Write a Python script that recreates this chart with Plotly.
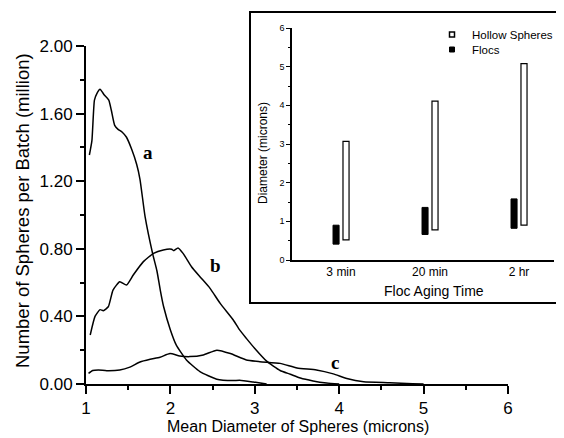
import plotly.graph_objects as go

# ---------------- data ----------------
# main chart: number of spheres per batch (million) vs mean diameter (microns)
a_x = [1.04, 1.07, 1.10, 1.13, 1.166, 1.217, 1.27, 1.30, 1.34, 1.38, 1.43, 1.48, 1.54, 1.60, 1.64,
       1.70, 1.79, 1.84, 1.88, 1.92, 2.00, 2.07, 2.19, 2.35, 2.55, 2.74, 2.82, 2.98, 3.14]
a_y = [1.355, 1.44, 1.68, 1.72, 1.744, 1.71, 1.68, 1.62, 1.53, 1.507, 1.49, 1.46, 1.39, 1.30, 1.21,
       0.99, 0.77, 0.67, 0.556, 0.457, 0.32, 0.23, 0.142, 0.073, 0.028, 0.02, 0.022, 0.012, 0.0]

b_x = [1.05, 1.107, 1.166, 1.205, 1.264, 1.32, 1.40, 1.48, 1.56, 1.68, 1.80, 1.916, 2.015, 2.04,
       2.09, 2.15, 2.25, 2.35, 2.47, 2.59, 2.745, 2.82, 2.90, 3.00, 3.14, 3.30, 3.42, 3.54, 3.69,
       3.85, 4.0]
b_y = [0.29, 0.40, 0.44, 0.434, 0.457, 0.556, 0.605, 0.586, 0.645, 0.724, 0.773, 0.793, 0.797, 0.789,
       0.805, 0.773, 0.694, 0.635, 0.566, 0.477, 0.379, 0.32, 0.27, 0.21, 0.135, 0.08, 0.058, 0.035,
       0.018, 0.006, 0.0]

c_x = [1.03, 1.08, 1.146, 1.245, 1.40, 1.52, 1.64, 1.76, 1.877, 1.995, 2.11, 2.23, 2.39, 2.55, 2.71,
       2.90, 3.06, 3.30, 3.50, 3.73, 3.93, 4.09, 4.29, 4.60, 4.87, 5.0]
c_y = [0.063, 0.08, 0.083, 0.079, 0.083, 0.10, 0.13, 0.146, 0.158, 0.18, 0.166, 0.162, 0.172, 0.20,
       0.18, 0.142, 0.132, 0.122, 0.095, 0.083, 0.06, 0.033, 0.014, 0.008, 0.002, 0.0]

# curve labels (position in data units)
label_text = ["a", "b", "c"]
label_x = [1.735, 2.53, 3.95]
label_y = [1.37, 0.70, 0.126]

# inset: diameter ranges per floc aging time
aging_times = ["3 min", "20 min", "2 hr"]
flocs_low = [0.41, 0.66, 0.82]
flocs_high = [0.90, 1.36, 1.58]
hollow_low = [0.52, 0.78, 0.90]
hollow_high = [3.07, 4.11, 5.08]

main_x_ticks = [1, 2, 3, 4, 5, 6]
main_y_ticks = [0.0, 0.4, 0.8, 1.2, 1.6, 2.0]
inset_y_ticks = [0, 1, 2, 3, 4, 5, 6]

# ---------------- figure ----------------
# the page body has an 8px margin, so the figure starts at (8, 8) in the window
OFF = 8
WIN_W, WIN_H = 564, 438
W, H = WIN_W - OFF, WIN_H - OFF
FONT = "Arial, Liberation Sans, sans-serif"


def px_x(p):
    """window x pixel -> paper fraction"""
    return (p - OFF) / W


def px_y(p):
    """window y pixel (from top) -> paper fraction"""
    return (WIN_H - p) / H


fig = go.Figure()

for xs, ys in [(a_x, a_y), (b_x, b_y), (c_x, c_y)]:
    fig.add_trace(go.Scatter(x=xs, y=ys, mode="lines",
                             line=dict(color="black", width=1.5, shape="spline", smoothing=0.5),
                             showlegend=False, hoverinfo="skip", xaxis="x", yaxis="y"))

# inset bars (floating bars)
fig.add_trace(go.Bar(x=aging_times, y=[h - l for l, h in zip(flocs_low, flocs_high)], base=flocs_low,
                     width=0.068, offset=-0.09,
                     marker=dict(color="black", line=dict(color="black", width=1)),
                     showlegend=False, xaxis="x2", yaxis="y2"))
fig.add_trace(go.Bar(x=aging_times, y=[h - l for l, h in zip(hollow_low, hollow_high)], base=hollow_low,
                     width=0.068, offset=0.022,
                     marker=dict(color="white", line=dict(color="black", width=1.2)),
                     showlegend=False, xaxis="x2", yaxis="y2"))

# legend entries (square symbols)
fig.add_trace(go.Scatter(x=[None], y=[None], mode="markers", name="Hollow Spheres",
                         marker=dict(symbol="square", size=5, color="white",
                                     line=dict(color="black", width=1.5)),
                         xaxis="x2", yaxis="y2", legend="legend"))
fig.add_trace(go.Scatter(x=[None], y=[None], mode="markers", name="Flocs",
                         marker=dict(symbol="square", size=5, color="black",
                                     line=dict(color="black", width=1)),
                         xaxis="x2", yaxis="y2", legend="legend2"))

annotations = []
for t, x, y in zip(label_text, label_x, label_y):
    annotations.append(dict(x=x, y=y, xref="x", yref="y", text=f"<b>{t}</b>", showarrow=False,
                            xanchor="center", yanchor="middle",
                            font=dict(family="Liberation Serif, Times New Roman, serif", size=19,
                                      color="black")))


def paper_text(x, y, text, size, angle=0):
    return dict(x=px_x(x), y=px_y(y), xref="paper", yref="paper", text=text, showarrow=False,
                xanchor="center", yanchor="middle", textangle=angle,
                font=dict(family=FONT, size=size, color="black"))


annotations += [
    paper_text(298, 426, "Mean Diameter of Spheres (microns)", 16),
    paper_text(22, 211, "Number of Spheres per Batch (million)", 18.5, -90),
    paper_text(434, 291, "Floc Aging Time", 14),
    paper_text(263, 153, "Diameter (microns)", 12, -90),
]

legend_common = dict(xanchor="left", yanchor="top", bgcolor="rgba(0,0,0,0)",
                     font=dict(family=FONT, size=11.5, color="black"), borderwidth=0)

fig.update_layout(
    width=W, height=H,
    margin=dict(l=0, r=0, t=0, b=0),
    paper_bgcolor="white", plot_bgcolor="rgba(0,0,0,0)",
    font=dict(family=FONT, color="black"),
    barmode="overlay",
    xaxis=dict(domain=[px_x(86), px_x(508)], range=[1, 6], tickvals=main_x_ticks,
               showline=True, linecolor="black", linewidth=2, ticks="outside", ticklen=8,
               tickwidth=1.5, tickcolor="black", showgrid=False, zeroline=False,
               tickfont=dict(size=17), automargin=False,
               minor=dict(ticks="outside", dtick=0.5, ticklen=4, tickwidth=1.5, tickcolor="black")),
    yaxis=dict(domain=[px_y(384), px_y(46)], range=[0, 2], tickvals=main_y_ticks, tickformat=".2f",
               showline=True, linecolor="black", linewidth=2, ticks="outside", ticklen=8,
               tickwidth=1.5, tickcolor="black", showgrid=False, zeroline=False,
               tickfont=dict(size=17), automargin=False,
               minor=dict(ticks="outside", dtick=0.2, ticklen=4, tickwidth=1.5, tickcolor="black")),
    xaxis2=dict(domain=[px_x(292), px_x(554)], anchor="y2", type="category",
                categoryorder="array", categoryarray=aging_times, range=[-0.551, 2.393],
                showline=True, linecolor="black", linewidth=1.5, ticks="", showgrid=False,
                zeroline=False, tickfont=dict(size=12), automargin=False),
    yaxis2=dict(domain=[px_y(260), px_y(28)], anchor="x2", range=[0, 6], tickvals=inset_y_ticks,
                showline=True, linecolor="black", linewidth=1.5, ticks="outside", ticklen=4,
                tickwidth=1, tickcolor="black", showgrid=False, zeroline=False,
                tickfont=dict(size=9), automargin=False,
                minor=dict(ticks="outside", dtick=0.5, ticklen=2, tickwidth=1, tickcolor="black")),
    shapes=[dict(type="rect", xref="paper", yref="paper", x0=px_x(250), x1=1.02,
                 y0=px_y(303), y1=px_y(12), line=dict(color="black", width=2),
                 fillcolor="white", layer="below")],
    legend=dict(x=px_x(432), y=px_y(20), **legend_common),
    legend2=dict(x=px_x(432), y=px_y(35), **legend_common),
    annotations=annotations,
    showlegend=True,
)

fig.write_html("out.html")
